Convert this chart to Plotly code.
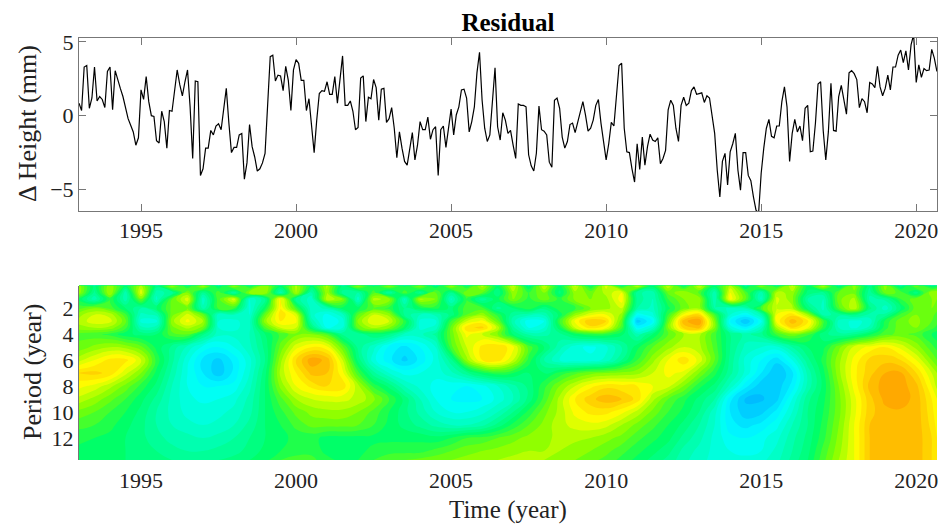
import plotly.graph_objects as go

residual_mm = [
0.84,0.35,3.3,3.4,0.5,1.2,3.3,1.0,1.3,1.1,0.55,3.0,
3.3,0.4,3.05,2.4,1.85,1.3,0.55,-0.2,-0.65,-1.1,-2.0,-1.5,
1.75,1.1,2.65,0.95,0,-0.05,-1.7,-1.85,0.3,-0.4,-2.2,0.35,
0.3,1.75,3.1,2.1,1.35,2.3,3.1,0.6,-2.9,2.35,2.3,-4.05,
-3.6,-2.2,-2.2,-1.0,-1.3,-0.7,-0.55,-0.95,0.6,1.85,-0.5,-2.5,
-2.15,-2.15,-1.3,-1.2,-4.3,-3.2,-0.6,-2.1,-2.8,-3.75,-3.6,-3.2,
-2.55,1.05,4.0,4.1,2.35,2.75,2.7,1.7,3.35,2.4,0.35,3.1,
3.8,3.55,2.4,2.4,0.35,1.15,-0.75,-2.5,-0.3,1.5,1.7,1.65,
2.3,1.45,1.45,2.65,0.85,2.4,4.05,0.7,0.7,1.0,0.3,-0.95,
-0.8,2.55,2.7,-0.4,1.25,1.15,2.45,1.9,-0.3,1.8,1.85,-0.45,
-0.2,0.55,-0.85,-2.85,-1.1,-2.2,-3.1,-3.35,-2.35,-1.15,-3.0,-2.0,
-0.4,-0.95,-0.95,-0.1,-1.6,-0.95,-0.75,-4.05,-0.95,-0.7,-2.15,-0.85,
0.45,-1.3,0.05,0.6,1.75,1.8,1.2,-1.1,-0.4,0.6,2.9,4.3,
1.05,-0.85,-1.75,-1.3,0.85,3.25,-0.75,-1.65,0.2,-0.3,-1.2,-1.0,
-2.0,-2.9,0.8,0.7,0.7,0.6,-2.65,-3.4,-3.75,-2.55,0.65,-0.95,
-1.05,-1.3,-3.15,-3.5,1.05,1.2,0.5,-1.45,-2.2,-1.75,-0.6,-0.5,
-1.15,-0.4,0.3,0.95,0.05,-1.05,-0.85,-0.3,0.7,1.1,-0.5,-1.75,
-3.0,-1.9,-0.45,-0.7,1.3,3.4,3.55,-0.85,-2.45,-2.5,-3.6,-4.5,
-1.9,-3.65,-1.45,-3.35,-2.1,-1.25,-1.65,-1.75,-1.5,-3.25,-2.9,-2.35,
0.4,1.05,0.7,-0.85,-1.75,0.7,1.25,0.7,0.85,1.7,1.95,1.45,
1.5,1.55,0.9,1.35,1.2,0.05,-1.2,-3.7,-5.5,-3.1,-2.55,-4.7,
-2.45,-1.9,-1.2,-3.7,-5.05,-2.5,-2.5,-4.05,-4.4,-5.5,-6.4,-6.6,
-3.9,-2.2,-0.85,-0.25,-1.4,-1.5,-0.7,-0.7,0.95,1.95,0.6,-3.1,
-1.2,-0.25,-1.1,-0.7,-1.7,0.5,0.7,-2.45,-2.4,-0.5,2.15,2.3,
-1.0,-3.0,-1.1,2.2,-1.0,-1.05,1.3,2.05,0.95,0.1,2.9,3.05,
2.85,2.45,0.55,1.15,0.95,0.2,2.25,2.15,1.9,3.35,1.95,1.35,
1.85,2.75,1.75,3.3,3.3,4.1,4.45,3.6,4.4,3.1,4.8,5.5,
2.25,3.45,2.6,3.2,3.05,3.1,4.5,3.9,3.0,
]
time_years = [1993 + i / 12 for i in range(len(residual_mm))]

x_ticks = [1995, 2000, 2005, 2010, 2015, 2020]
y_ticks_top = [-5, 0, 5]
y_ticks_bottom = [2, 4, 6, 8, 10, 12]

grid_years = [1993 + j * 0.5 for j in range(56)] + [2020.67]
grid_periods = [0.25, 0.8, 1.3, 2, 2.5, 3, 3.5, 4, 5, 6, 7, 8, 9, 10, 11, 12, 13, 13.7]

p025 = [1.2,-0.3,1.3,0,1.4,-0.3,1.4,0,1.5,-0.3,
        1.4,0,1.3,0,1.4,0,1.4,-0.3,1.3,0,
        1.3,0,1.2,-0.3,1.4,0,1.5,0,1.7,-0.3,
        1.7,0,1.7,0,1.8,0,1.7,0,1.6,0,
        1.7,0,1.4,-0.4,1.3,0,1.7,0,1.6,-0.3,
        1.2,-0.4,1.2,-0.4,1.0,-0.3,0]
p08 = [1.2,-0.6,1.4,-1.0,1.8,-1.0,-0.6,1.0,-0.6,0.6,
       -0.8,1.2,1.3,-1.0,1.4,-0.9,1.3,-0.6,-0.8,0.6,
       -0.8,0.6,-0.6,0.8,-0.5,1.0,0.7,-0.5,1.2,0.4,
       1.0,-0.3,1.2,0.9,1.4,1.9,-0.7,-1.0,0.8,1.3,
       0.6,-1.0,1.9,0.6,-1.0,1.4,1.2,-0.3,-0.6,0.7,
       0.9,-0.7,0.9,0.6,-0.4,1.3,1.3]
p13 = [0,-1.0,0.4,-1.0,0.9,-1.2,0.7,1.8,-1.3,0.6,
       1.8,-1.4,-0.6,2.2,-0.6,-1.3,1.6,1.0,-1.3,1.4,
       1.2,-1.2,1.4,1.0,-1.2,0.4,-0.7,0,1.0,0.3,
       0.9,0.3,1.1,1.0,1.2,2.1,-0.6,-1.1,0.4,1.0,
       1.2,-1.1,2.1,0.7,-1.2,1.7,1.1,-0.8,-1.1,0.9,
       1.4,-0.9,-0.7,0.4,0.9,1.0,1.0]
p2 = [0.6,1.0,0.6,-0.2,-0.8,-0.2,0.8,1.0,-1.0,0.5,
      0.4,-1.5,0,2.2,0.5,-1.3,-1.0,0,0,0.7,
      0.3,-0.5,0,0.2,-0.3,0.6,0.5,-0.6,-0.2,0.3,
      -0.4,0.3,0.3,1.0,1.2,1.6,-0.8,-1.2,0,0.9,
      1.2,-0.8,-1.2,-1.0,0.6,1.6,1.4,-0.3,-1.2,0.6,
      1.6,-0.4,-1.3,-0.2,0.9,1.0,0.8]
p25 = [1.2,1.6,1.5,0.5,-1.2,-1.0,0.9,1.7,0.8,-1.3,
       -1.1,-1.4,0.8,2.4,1.8,-1.3,-1.8,-1.2,0.7,1.6,
       1.2,-0.6,-1.1,-1.0,-0.4,0.7,1.2,0.3,-0.7,-1.0,
       -1.0,-0.1,1.2,1.8,1.9,1.2,-1.9,-1.5,0.4,2.0,
       2.5,0.5,-1.4,-2.0,-1.0,1.9,2.4,1.3,-0.9,-0.7,
       -0.4,-0.9,-0.7,0.5,1.0,0.8,0.6]
p3 = [1.4,1.8,1.7,0.8,-1.5,-1.5,1.2,2.0,1.3,-1.4,
      -1.5,-1.2,1.2,2.2,2.0,-0.9,-2.0,-1.6,1.1,1.9,
      1.6,0.3,-1.5,-1.5,0.4,1.6,2.0,0.8,-1.0,-1.9,
      -1.7,0.4,2.0,2.8,2.5,0.8,-2.8,-2.0,0.8,3.0,
      3.4,1.0,-2.0,-2.9,-1.8,2.0,3.0,2.3,0.5,-1.2,
      -1.5,-1.3,0.2,0.9,1.1,0.7,0.5]
p35 = [1.2,1.3,1.2,0.5,-1.0,-0.9,0.9,1.4,0.9,-1.4,
       -1.5,-1.2,0.6,1.6,1.6,-0.2,-1.8,-1.4,0.8,1.4,
       1.0,0,-1.5,-1.3,0.8,2.4,2.6,1.5,-0.7,-1.7,
       -1.4,0,1.6,2.4,2.0,0.5,-2.0,-1.3,1.0,2.6,
       2.9,1.0,-1.5,-2.2,-1.2,1.3,2.5,1.9,0.3,-1.1,
       -1.5,-1.0,0.3,0.9,1.0,0.5,0.3]
p4 = [0.6,0.5,0.3,-0.1,-0.3,-0.2,0.6,0.7,-0.4,-1.3,
      -1.3,-1.1,-0.2,0.5,0.9,1.0,0.6,-0.6,-0.7,-0.2,
      -0.4,-1.2,-1.2,-0.7,0.8,2.0,1.6,1.0,-0.2,-0.9,
      -0.9,-0.6,0,0.3,0.3,-0.1,-1.0,-0.2,0.7,1.3,
      1.4,0.5,-0.5,-0.9,-0.6,0.5,1.0,0.5,-0.4,-0.7,
      -0.5,0,0.6,0.8,0.6,0.1,-0.1]
p5 = [0.8,1.1,1.3,1.2,0.8,0,-0.6,-1.2,-1.8,-2.0,
      -1.7,-1.2,-0.4,0.8,1.8,2.2,2.0,0.8,-0.6,-1.3,
      -2.1,-2.4,-2.0,-1.4,0.6,1.6,2.3,2.5,2.0,0.6,
      -0.2,-1.0,-1.6,-1.8,-1.5,-0.8,0,0.7,1.2,1.6,
      1.4,0.6,-0.5,-1.2,-1.4,-1.5,-0.8,-0.2,0,0.9,
      1.7,2.0,2.2,1.8,1.2,0.5,0.3]
p6 = [1.5,1.9,2.3,2.3,1.7,0.3,-0.7,-1.6,-2.4,-2.7,
      -2.2,-1.5,-0.5,1.2,2.5,3.3,3.0,1.6,-0.3,-1.6,
      -2.2,-2.7,-2.2,-1.6,-0.6,1.2,2.2,2.4,1.6,0.3,
      -0.8,-1.4,-1.6,-1.6,-1.3,-0.5,0.4,1.2,1.9,2.4,
      1.8,0.7,-0.6,-1.5,-2.0,-2.5,-1.7,-0.6,0.2,1.2,
      2.0,2.6,2.7,2.5,1.9,1.0,0.7]
p7 = [2.5,2.6,2.4,1.7,1.0,0,-0.9,-1.7,-2.3,-2.8,
      -2.2,-1.4,-0.3,1.4,2.2,2.9,2.8,2.0,0.5,-0.7,
      -1.4,-1.8,-1.7,-1.6,-1.2,-0.6,0,0.3,0.1,-0.2,
      -0.2,0.2,0.6,0.9,1.0,1.1,1.2,1.6,2.0,1.8,
      1.0,0.2,-0.7,-1.5,-2.3,-2.9,-2.4,-1.0,0,1.2,
      2.1,2.7,3.1,3.15,2.5,1.6,1.3]
p8b = [2.0,1.8,1.4,0.9,0.3,-0.3,-1.1,-1.7,-2.0,-2.0,
       -1.9,-1.2,-0.2,1.1,1.9,2.3,2.5,2.4,1.4,0.3,
       -0.3,-1.1,-1.5,-1.8,-1.9,-2.0,-1.8,-1.4,-0.9,-0.4,
       0.3,1.0,1.6,2.1,2.4,2.3,2.2,1.9,1.7,1.0,
       0.2,-0.3,-1.2,-2.2,-2.8,-2.8,-2.2,-1.0,-0.1,1.0,
       2.0,2.9,3.25,3.25,2.9,1.9,1.5]
p9 = [1.5,1.2,0.8,0.4,-0.1,-0.6,-1.2,-1.6,-1.8,-1.7,
      -1.5,-1.0,-0.2,0.6,1.3,1.6,1.7,1.7,1.5,1.1,
      0.4,-0.3,-1.1,-1.7,-2.0,-2.1,-2.0,-1.6,-1.1,-0.4,
      0.5,1.4,2.2,2.7,3.0,2.8,2.4,1.4,0.7,0.2,
      -0.3,-0.8,-2.2,-2.95,-2.95,-2.7,-1.7,-0.6,0,0.9,
      1.8,2.7,3.2,3.25,3.0,2.2,1.9]
p10 = [0.9,0.7,0.4,0.1,-0.3,-0.8,-1.2,-1.5,-1.5,-1.5,
       -1.3,-0.9,-0.2,0.3,0.8,1.1,1.2,1.2,1.0,0.6,
       0.1,-0.4,-0.9,-1.4,-1.7,-1.7,-1.5,-1.1,-0.5,0.2,
       0.9,1.4,2.0,2.3,2.3,2.0,1.5,0.9,0.4,0,
       -0.5,-1.3,-2.3,-2.8,-2.7,-2.2,-1.4,-0.5,0.1,0.9,
       1.8,2.7,3.0,3.05,3.0,2.3,2.0]
p11 = [0.5,0.4,0.2,-0.1,-0.4,-0.8,-1.1,-1.3,-1.4,-1.3,
       -1.1,-0.7,-0.2,0.1,0.5,0.8,0.8,0.8,0.7,0.4,
       0,-0.3,-0.6,-0.9,-1.1,-1.1,-0.9,-0.4,0.2,0.7,
       1.1,1.5,1.7,1.8,1.7,1.3,0.9,0.5,0.1,-0.3,
       -0.8,-1.4,-2.2,-2.4,-2.2,-1.8,-1.1,-0.5,0.2,1.0,
       1.9,2.8,3.0,3.05,3.0,2.4,2.1]
p12 = [0.2,0.1,0,-0.2,-0.4,-0.7,-0.9,-1.0,-1.1,-1.0,
       -0.8,-0.5,-0.2,0,0.2,0.2,0,0,0,0,
       0,0,0,-0.1,0.1,0.4,0.5,0.7,0.9,1.1,
       1.2,1.4,1.4,1.3,1.1,0.9,0.5,0.2,-0.1,-0.6,
       -1.0,-1.5,-1.9,-2.0,-1.8,-1.5,-0.9,-0.4,0.3,1.1,
       1.9,2.8,3.0,3.05,3.0,2.5,2.2]
p13b = [0,0,-0.1,-0.2,-0.3,-0.5,-0.7,-0.8,-0.8,-0.7,
        -0.6,-0.4,-0.1,0.1,0.3,0.3,0,0,0,0.2,
        0.3,0.3,0.3,0.5,0.7,0.9,1.0,1.1,1.2,1.3,
        1.3,1.3,1.1,1.0,0.8,0.5,0.2,-0.1,-0.4,-0.9,
        -1.2,-1.5,-1.7,-1.8,-1.7,-1.3,-0.8,-0.3,0.5,1.2,
        1.9,2.8,3.0,3.05,3.0,2.5,2.2]
p137 = [-0.1,-0.1,-0.1,-0.2,-0.3,-0.4,-0.5,-0.6,-0.6,-0.5,
        -0.4,-0.2,0,0.4,0.5,0.5,0.2,0,0.1,0.4,
        0.6,0.7,0.8,0.9,1.0,1.1,1.2,1.3,1.4,1.4,
        1.3,1.2,1.0,0.8,0.6,0.3,0,-0.3,-0.6,-1.0,
        -1.3,-1.5,-1.6,-1.6,-1.5,-1.2,-0.7,-0.2,0.6,1.3,
        1.9,2.8,3.0,3.05,3.0,2.5,2.2]
power_rows = [p025, p08, p13, p2, p25, p3, p35, p4, p5, p6, p7, p8b, p9, p10, p11, p12, p13b, p137]

W, H = 946, 524
X0, X1 = 79, 937
def py(v): return 1 - v / H

SERIF = "Liberation Serif"
GREY = "#777777"
ZMIN, ZMAX = -3.5, 4.0
def cs(z): return (z - ZMIN) / (ZMAX - ZMIN)
colors = [
    [cs(-3.5), "rgb(0,170,255)"],
    [cs(-3), "rgb(0,190,255)"],
    [cs(-2), "rgb(0,255,255)"],
    [cs(-1), "rgb(0,255,180)"],
    [cs(0), "rgb(0,255,100)"],
    [cs(1), "rgb(125,255,0)"],
    [cs(2), "rgb(255,255,0)"],
    [cs(3), "rgb(255,185,0)"],
    [cs(4), "rgb(255,120,0)"],
]

fig = go.Figure()
fig.add_trace(go.Scatter(x=time_years, y=residual_mm, mode="lines",
                         line=dict(color="black", width=1.2), xaxis="x", yaxis="y",
                         showlegend=False, hoverinfo="skip"))
fig.add_trace(go.Contour(x=grid_years, y=grid_periods, z=power_rows, xaxis="x2", yaxis="y2",
                         colorscale=colors, zmin=ZMIN, zmax=ZMAX, showscale=False,
                         contours=dict(coloring="fill", start=-3.5, end=4, size=0.3),
                         line=dict(width=0, smoothing=1.3), hoverinfo="skip"))

tick_font = dict(family=SERIF, size=22, color="#222222")
fig.update_layout(
    width=W, height=H, margin=dict(l=0, r=0, t=0, b=0),
    paper_bgcolor="white", plot_bgcolor="white", showlegend=False,
    font=dict(family=SERIF, size=22, color="#222222"),
    xaxis=dict(domain=[X0 / W, X1 / W], range=[1993, 2020.67], anchor="y", automargin=False,
               tickvals=x_ticks, ticks="inside", ticklen=7, tickcolor=GREY, tickwidth=1,
               showline=True, linecolor=GREY, linewidth=1, mirror="ticks", showgrid=False,
               zeroline=False, tickfont=tick_font),
    yaxis=dict(domain=[py(211), py(37.5)], range=[-6.46, 5.3], anchor="x", automargin=False,
               tickvals=y_ticks_top, ticks="inside", ticklen=7, tickcolor=GREY, tickwidth=1,
               showline=True, linecolor=GREY, linewidth=1, mirror="ticks", showgrid=False,
               zeroline=False, tickfont=tick_font),
    xaxis2=dict(domain=[X0 / W, X1 / W], range=[1993, 2020.67], anchor="y2", automargin=False,
                tickvals=x_ticks, ticks="", showline=False, showgrid=False, zeroline=False,
                ticklabelstandoff=5, tickfont=tick_font),
    yaxis2=dict(domain=[py(460), py(285.5)], range=[13.7, 0.25], anchor="x2", automargin=False,
                tickvals=y_ticks_bottom, ticks="", showline=True, linecolor=GREY, linewidth=1,
                showgrid=False, zeroline=False, tickfont=tick_font),
    title=dict(text="<b>Residual</b>", x=508 / W, xanchor="center", y=py(22), yanchor="middle",
               font=dict(family=SERIF, size=25, color="black")),
    annotations=[
        dict(text="\u0394 Height (mm)", xref="paper", yref="paper", x=27 / W, y=py(124),
             textangle=-90, showarrow=False, xanchor="center", yanchor="middle",
             font=dict(family=SERIF, size=26, color="#222222")),
        dict(text="Period (year)", xref="paper", yref="paper", x=32 / W, y=py(372),
             textangle=-90, showarrow=False, xanchor="center", yanchor="middle",
             font=dict(family=SERIF, size=26, color="#222222")),
        dict(text="Time (year)", xref="paper", yref="paper", x=508 / W, y=py(510),
             showarrow=False, xanchor="center", yanchor="middle",
             font=dict(family=SERIF, size=25, color="#222222")),
    ],
)

for name, row in zip(grid_periods, power_rows):
    assert len(row) == len(grid_years), (name, len(row))

fig.write_html("out.html", config={"displayModeBar": False},
               post_script="document.body.style.margin='0';")
